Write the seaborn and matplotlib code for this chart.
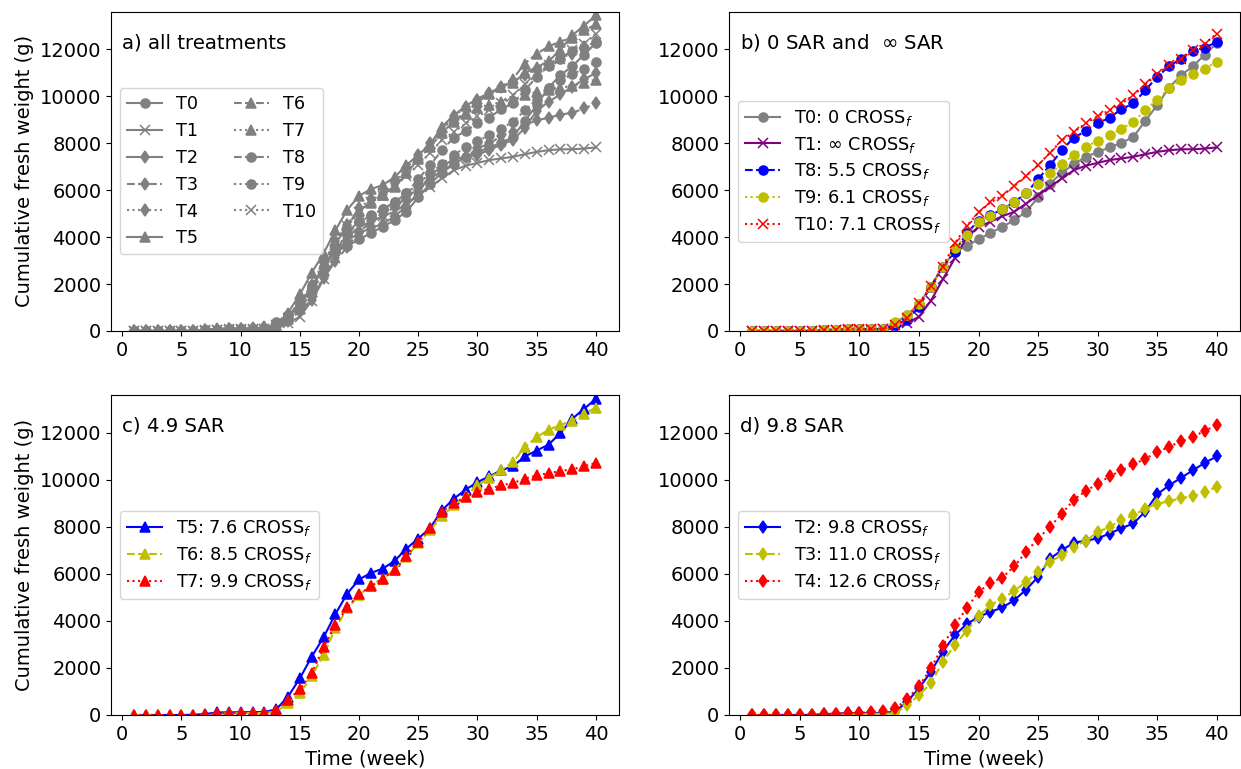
import numpy as np
import matplotlib
matplotlib.use("Agg")
import matplotlib.pyplot as plt
import seaborn as sns

weeks = list(range(1, 41))

early = [0, 0, 0, 0, 0, 10, 30, 60, 70, 80, 80, 90]

T0 = early + [330, 680, 1150, 1890, 2740, 3380, 3620, 3900, 4180, 4440, 4720, 5080,
              5690, 6280, 6740, 7110, 7420, 7620, 7820, 8010, 8270, 8950, 9620, 10370,
              10890, 11280, 11770, 12270]
T1 = [0, 0, 0, 0, 0, 10, 20, 40, 50, 60, 60, 70] + [110, 330, 610, 1290, 2200, 3090, 3990, 4440, 4650, 4890,
              5080, 5430, 5790, 6140, 6500, 6850, 7040, 7160, 7280, 7350, 7420, 7530,
              7630, 7700, 7740, 7740, 7770, 7820]
T2 = early + [140, 570, 1130, 1840, 2690, 3390, 3860, 4170, 4380, 4570, 4880, 5330,
              5870, 6650, 7000, 7330, 7400, 7510, 7710, 7940, 8140, 8650, 9380, 9760,
              10080, 10400, 10720, 10990]
T3 = [0, 0, 0, 0, 0, 0, 10, 30, 40, 50, 50, 60] + [70, 420, 850, 1340, 2260, 2970, 3580, 4200, 4670, 4950,
              5280, 5660, 6080, 6510, 6790, 7140, 7400, 7780, 7990, 8300, 8490, 8770,
              8980, 9080, 9220, 9290, 9480, 9690]
T4 = [0, 0, 0, 0, 0, 10, 30, 60, 80, 100, 120, 180] + [280, 660, 1230, 1980, 2930, 3820, 4530, 5230, 5620,
              5840, 6320, 6930, 7500, 7990, 8560, 9150, 9520, 9830, 10140, 10400,
              10650, 10890, 11170, 11390, 11640, 11810, 12090, 12310]
T5 = [0, 0, 0, 0, 0, 10, 40, 110, 110, 120, 120, 130] + [240, 780, 1560, 2480, 3300, 4290, 5160, 5760,
              6040, 6220, 6550, 7070, 7500, 7950, 8700, 9190, 9580, 9900, 10140, 10400,
              10570, 10990, 11240, 11490, 11980, 12590, 13010, 13440]
T6 = [0, 0, 0, 0, 0, 0, 20, 60, 70, 80, 80, 90] + [140, 500, 920, 1650, 2550, 3680, 4530, 5090, 5520, 5800,
              6180, 6720, 7310, 7850, 8440, 8910, 9290, 9760, 10080, 10400, 10750,
              11390, 11810, 12120, 12330, 12490, 12800, 13060]
T7 = [0, 0, 0, 0, 0, 10, 30, 70, 80, 90, 90, 100] + [210, 640, 1090, 1770, 2870, 3820, 4570, 5130, 5470,
              5800, 6150, 6760, 7350, 7950, 8630, 9010, 9260, 9480, 9620, 9760, 9860,
              10040, 10180, 10280, 10370, 10440, 10570, 10710]
T8 = early + [250, 470, 1035, 1890, 2740, 3380, 4160, 4700, 4940, 5180, 5500, 5860,
              6470, 7060, 7700, 8240, 8510, 8840, 9090, 9450, 9690, 10260, 10820, 11280,
              11600, 11930, 12070, 12310]
T9 = early + [400, 680, 1150, 1890, 2740, 3520, 4090, 4650, 4890, 5180, 5480, 5860,
              6280, 6710, 7110, 7490, 7840, 8100, 8340, 8620, 8910, 9400, 9860, 10330,
              10680, 10940, 11180, 11460]
T10 = early + [250, 540, 1180, 1900, 2740, 3730, 4470, 5050, 5480, 5760, 6180, 6610,
               7060, 7590, 8130, 8480, 8840, 9150, 9400, 9690, 10040, 10500, 10940, 11320,
               11600, 11960, 12240, 12670]

series = {"T0": T0, "T1": T1, "T2": T2, "T3": T3, "T4": T4, "T5": T5,
          "T6": T6, "T7": T7, "T8": T8, "T9": T9, "T10": T10}
markers = {"T0": "o", "T1": "x", "T2": "d", "T3": "d", "T4": "d", "T5": "^",
           "T6": "^", "T7": "^", "T8": "o", "T9": "o", "T10": "x"}
styles = {"T0": "-", "T1": "-", "T2": "-", "T3": "--", "T4": ":", "T5": "-",
          "T6": "--", "T7": ":", "T8": "--", "T9": ":", "T10": ":"}

panel_b = [("T0", "T0: 0 CROSS$_f$", "gray"), ("T1", "T1: ∞ CROSS$_f$", "purple"),
           ("T8", "T8: 5.5 CROSS$_f$", "b"), ("T9", "T9: 6.1 CROSS$_f$", "y"),
           ("T10", "T10: 7.1 CROSS$_f$", "r")]
panel_c = [("T5", "T5: 7.6 CROSS$_f$", "b"), ("T6", "T6: 8.5 CROSS$_f$", "y"),
           ("T7", "T7: 9.9 CROSS$_f$", "r")]
panel_d = [("T2", "T2: 9.8 CROSS$_f$", "b"), ("T3", "T3: 11.0 CROSS$_f$", "y"),
           ("T4", "T4: 12.6 CROSS$_f$", "r")]

titles = ["a) all treatments", "b) 0 SAR and  $\\infty$ SAR", "c) 4.9 SAR", "d) 9.8 SAR"]

plt.rcParams["font.size"] = 14
W, H = 1241, 769
fig = plt.figure(figsize=(W / 100, H / 100), dpi=100)

def rect(l, r, t, b):
    return [l / W, 1 - b / H, (r - l) / W, (b - t) / H]

axa = fig.add_axes(rect(111, 619, 11.7, 331))
axb = fig.add_axes(rect(729, 1240, 11.7, 331))
axc = fig.add_axes(rect(111, 619, 395, 715))
axd = fig.add_axes(rect(729, 1240, 395, 715))

def draw(ax, key, label, color):
    sns.lineplot(x=weeks, y=series[key], ax=ax, color=color, marker=markers[key],
                 linestyle=styles[key], label=label, markersize=6.5, linewidth=1.5,
                 markeredgecolor=color, mew=1.1)

for k in series:
    draw(axa, k, k, "gray")
for k, lab, c in panel_b:
    draw(axb, k, lab, c)
for k, lab, c in panel_c:
    draw(axc, k, lab, c)
for k, lab, c in panel_d:
    draw(axd, k, lab, c)

for ax, t in zip([axa, axb, axc, axd], titles):
    ax.set_xlim(-0.95, 41.95)
    ax.set_ylim(0, 13600)
    ax.set_xticks([0, 5, 10, 15, 20, 25, 30, 35, 40])
    ax.set_yticks([0, 2000, 4000, 6000, 8000, 10000, 12000])
    ax.tick_params(labelsize=14)
    ax.text(0.022, 0.903, t, transform=ax.transAxes, fontsize=14.2, va="center", ha="left")
    ax.set_xlabel("")
    ax.set_ylabel("")

LFS = 12.7
axa.legend(loc="center left", ncol=2, fontsize=LFS)
axb.legend(loc="center left", fontsize=LFS, labelspacing=0.38)
axc.legend(loc="center left", fontsize=LFS, labelspacing=0.38)
axd.legend(loc="center left", fontsize=LFS, labelspacing=0.38)

axa.set_ylabel("Cumulative fresh weight (g)", fontsize=14)
axc.set_ylabel("Cumulative fresh weight (g)", fontsize=14)
axc.set_xlabel("Time (week)", fontsize=14)
axd.set_xlabel("Time (week)", fontsize=14)

fig.savefig("out.png", dpi=100)
